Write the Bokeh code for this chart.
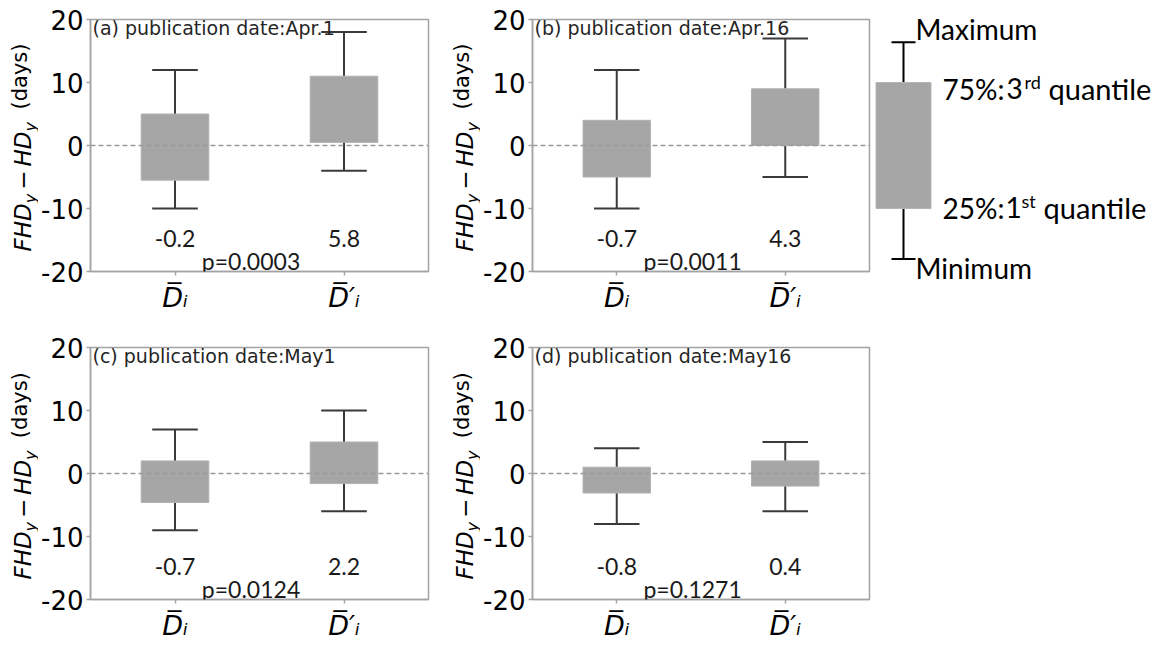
import math
from bokeh.plotting import figure
from bokeh.layouts import row, column
from bokeh.models import Range1d, Label, Span, FixedTicker, ColumnDataSource
from bokeh.core.properties import value
from bokeh.embed import file_html
from bokeh.resources import INLINE

# ---------------- data ----------------
panel_titles = ["(a) publication date:Apr.1", "(b) publication date:Apr.16",
                "(c) publication date:May1", "(d) publication date:May16"]
categories = [1, 2]
category_labels = ["D\u0305\u1d62", "D\u0305\u2032\u1d62"]   # D̄_i , D̄'_i
box_q1 = [[-5.5, 0.5], [-5.0, 0.0], [-4.6, -1.6], [-3.1, -2.0]]
box_q3 = [[5.0, 11.0], [4.0, 9.0], [2.0, 5.0], [1.0, 2.0]]
box_min = [[-10, -4], [-10, -5], [-9, -6], [-8, -6]]
box_max = [[12, 18], [12, 17], [7, 10], [4, 5]]
mean_values = [[-0.2, 5.8], [-0.7, 4.3], [-0.7, 2.2], [-0.8, 0.4]]
p_values = ["p=0.0003", "p=0.0011", "p=0.0124", "p=0.1271"]
y_ticks = [-20, -10, 0, 10, 20]
legend_min, legend_q1, legend_q3, legend_max = -18, -10, 10, 16.4

# ---------------- style ----------------
FRAME = "#a3a3a3"
BOX = "#a6a6a6"
WHISK = "#3a3a3a"
TXT = "#1a1a1a"
BOX_W = 0.4
CAP_W = 0.27
Y0, Y1 = -20, 20
TOP = 19


def build_panel(k, width, height, bl, br, bt, bb):
    p = figure(width=width, height=height, x_range=Range1d(0.5, 2.5), y_range=Range1d(Y0, Y1),
               output_backend="svg", toolbar_location=None,
               min_border_left=bl, min_border_right=br, min_border_top=bt, min_border_bottom=bb)
    p.xgrid.visible = False
    p.ygrid.visible = False
    p.outline_line_color = FRAME
    p.outline_line_width = 1.5
    for ax in (p.xaxis[0], p.yaxis[0]):
        ax.axis_line_color = FRAME
        ax.axis_line_width = 1.5
        ax.major_tick_line_color = FRAME
        ax.major_tick_line_width = 1.5
        ax.major_tick_out = 4
        ax.major_tick_in = 0
        ax.minor_tick_out = 0
        ax.minor_tick_in = 0
    p.xaxis.ticker = FixedTicker(ticks=categories)
    p.xaxis.major_label_overrides = {c: t for c, t in zip(categories, category_labels)}
    p.xaxis.major_label_text_font = "DejaVu Sans"
    p.xaxis.major_label_text_font_style = "italic"
    p.xaxis.major_label_text_font_size = "27px"
    p.xaxis.major_label_text_color = "black"
    p.xaxis.major_label_standoff = 6
    p.yaxis.ticker = FixedTicker(ticks=y_ticks)
    p.yaxis.major_label_overrides = {t: f"{t:d}" for t in y_ticks}
    p.yaxis.major_label_text_font = "DejaVu Sans"
    p.yaxis.major_label_text_font_size = "26px"
    p.yaxis.major_label_text_color = "black"
    p.yaxis.major_label_standoff = 3

    src = ColumnDataSource(dict(
        x=categories, q1=box_q1[k], q3=box_q3[k], lo=box_min[k], hi=box_max[k],
        cl=[c - CAP_W / 2 for c in categories], cr=[c + CAP_W / 2 for c in categories]))
    p.segment(x0="x", y0="q3", x1="x", y1="hi", source=src, line_color=WHISK, line_width=2)
    p.segment(x0="x", y0="q1", x1="x", y1="lo", source=src, line_color=WHISK, line_width=2)
    p.segment(x0="cl", y0="hi", x1="cr", y1="hi", source=src, line_color=WHISK, line_width=2)
    p.segment(x0="cl", y0="lo", x1="cr", y1="lo", source=src, line_color=WHISK, line_width=2)
    p.vbar(x="x", width=BOX_W, bottom="q1", top="q3", source=src,
           fill_color=BOX, line_color="#b0b0b0", line_width=1)
    p.add_layout(Span(location=0, dimension="width", line_color="#9a9a9a",
                      line_dash="5 3", line_width=1.3))

    p.add_layout(Label(x=0.5, y=Y1, x_offset=2, y_offset=-8.5, text=panel_titles[k],
                       text_font="DejaVu Sans", text_font_size="19px", text_color="#262626",
                       text_baseline="middle", text_align="left"))
    for c, m in zip(categories, mean_values[k]):
        p.add_layout(Label(x=c, y=-14.8, text=f"{m:.1f}", text_font="Lato",
                           text_font_size="23px", text_color=TXT,
                           text_align="center", text_baseline="middle"))
    p.add_layout(Label(x=1.45, y=-18.3, text=p_values[k], text_font="Lato",
                       text_font_size="23px", text_color=TXT,
                       text_align="center", text_baseline="middle"))
    return p


def build_ylabel(width, height, top, frame_h):
    ppu = frame_h / 40.0
    f = figure(width=width, height=height, x_range=Range1d(0, width), y_range=Range1d(Y0, Y1),
               output_backend="svg", toolbar_location=None,
               x_axis_location=None, y_axis_location=None,
               min_border_left=0, min_border_right=0, min_border_top=top,
               min_border_bottom=height - top - frame_h)
    f.grid.visible = False
    f.outline_line_color = None
    # FHD_y − HD_y (days), composed piece by piece, reading bottom to top
    # (text, style, size, advance px, centre x)
    pieces = [("FHD", "italic", 23, 48.2, 22), ("y", "italic", 16, 13.5, 29.5),
              ("\u2212", "normal", 23, 23.3, 22), ("HD", "italic", 23, 35.0, 22),
              ("y", "italic", 16, 22.0, 29.5), ("(days)", "normal", 21, 0, 19.5)]
    pos = Y0 + 20 / ppu
    for txt, style, size, adv, cx in pieces:
        f.text(x=[cx], y=[pos], text=[txt], angle=math.pi / 2,
               text_font=value("DejaVu Sans"), text_font_style=value(style),
               text_font_size=value(f"{size}px"), text_color="black",
               text_align=value("left"), text_baseline=value("middle"))
        pos += adv / ppu
    return f


# layout geometry (page origin at 0,0)
H1, H2 = 328, 315
FH1, FH2 = 252, 253
YL_W = 38
ya = build_ylabel(YL_W, H1, TOP, FH1)
pa = build_panel(0, 404, H1, 52, 14, TOP, H1 - TOP - FH1)
yb = build_ylabel(YL_W, H1, TOP, FH1)
pb = build_panel(1, 392, H1, 52, 3, TOP, H1 - TOP - FH1)
yc = build_ylabel(YL_W, H2, TOP, FH2)
pc = build_panel(2, 404, H2, 52, 14, TOP, H2 - TOP - FH2)
yd = build_ylabel(YL_W, H2, TOP, FH2)
pd = build_panel(3, 392, H2, 52, 3, TOP, H2 - TOP - FH2)

# ---------------- schematic legend ----------------
W_L = 284
ppu = FH1 / 40.0
leg = figure(width=W_L, height=H1, x_range=Range1d(0, W_L),
             y_range=Range1d(Y0 - (H1 - TOP - FH1) / ppu, Y1 + TOP / ppu),
             output_backend="svg", toolbar_location=None,
             x_axis_location=None, y_axis_location=None,
             min_border_left=0, min_border_right=0, min_border_top=0, min_border_bottom=0)
leg.grid.visible = False
leg.outline_line_color = None
LX = 31
lsrc = ColumnDataSource(dict(x=[LX], q1=[legend_q1], q3=[legend_q3], lo=[legend_min], hi=[legend_max],
                             cl=[LX - 12], cr=[LX + 12]))
leg.segment(x0="x", y0="q3", x1="x", y1="hi", source=lsrc, line_color="black", line_width=2)
leg.segment(x0="x", y0="q1", x1="x", y1="lo", source=lsrc, line_color="black", line_width=2)
leg.segment(x0="cl", y0="hi", x1="cr", y1="hi", source=lsrc, line_color="black", line_width=2)
leg.segment(x0="cl", y0="lo", x1="cr", y1="lo", source=lsrc, line_color="black", line_width=2)
leg.vbar(x="x", width=55, bottom="q1", top="q3", source=lsrc, fill_color=BOX, line_color="#b5b5b5")


def page_y(py):
    return (TOP + FH1 / 2 - py) / ppu


# (text, left x, text centre y on page, size)
leg_texts = [("Maximum", 43, 28, 28), ("Minimum", 43, 267, 28),
             ("75%", 70, 88, 28), (":", 125, 88, 28), ("3", 134, 88, 28), ("rd", 152, 81, 18),
             ("quantile", 176, 88, 29),
             ("25%", 70, 207, 28), (":", 125, 207, 28), ("1", 133, 207, 28), ("st", 149, 200, 18),
             ("quantile", 171, 207, 29)]
for txt, lx, py, size in leg_texts:
    leg.add_layout(Label(x=lx, y=page_y(py), text=txt, text_font="Lato",
                         text_font_size=f"{size}px", text_color="black",
                         text_align="left", text_baseline="middle"))

grid = column(row(ya, pa, yb, pb), row(yc, pc, yd, pd))
layout = row(grid, leg)
open("out.html", "w").write(file_html(layout, INLINE))
